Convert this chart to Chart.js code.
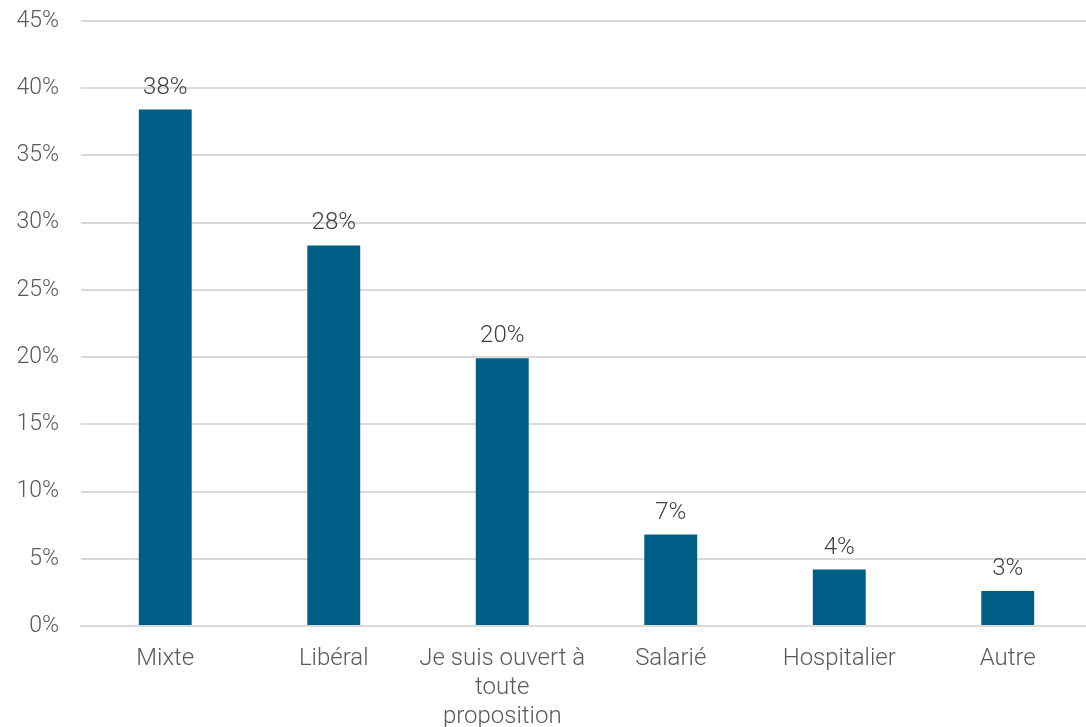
<!DOCTYPE html>
<html>
<head>
<meta charset="utf-8">
<script src="https://cdn.jsdelivr.net/npm/chart.js@4.4.1/dist/chart.umd.min.js"></script>
<style>
html,body{margin:0;padding:0;background:#fff;overflow:hidden;}
#wrap{width:1092px;height:742px;position:absolute;left:0;top:-15px;}
</style>
</head>
<body>
<div id="wrap"><canvas id="c"></canvas></div>
<script>
const categories = [
  'Mixte',
  'Libéral',
  ['Je suis ouvert à', 'toute', 'proposition'],
  'Salarié',
  'Hospitalier',
  'Autre'
];
const values = [38.4, 28.3, 19.9, 6.8, 4.2, 2.6];
const valueLabels = ['38%', '28%', '20%', '7%', '4%', '3%'];
const yTicks = [0, 5, 10, 15, 20, 25, 30, 35, 40, 45];

const FONT = "Roboto";
const barLabels = {
  id: 'barLabels',
  afterDatasetsDraw(chart) {
    const ctx = chart.ctx;
    const meta = chart.getDatasetMeta(0);
    ctx.save();
    ctx.font = '300 24px ' + FONT;
    ctx.fillStyle = '#404040';
    ctx.textAlign = 'center';
    ctx.textBaseline = 'alphabetic';
    meta.data.forEach((bar, i) => {
      ctx.fillText(valueLabels[i], bar.x, bar.y - 16);
    });
    ctx.restore();
  }
};

new Chart(document.getElementById('c'), {
  type: 'bar',
  data: {
    labels: categories,
    datasets: [{
      data: values,
      backgroundColor: '#005f87',
      borderWidth: 0,
      barPercentage: 0.314,
      categoryPercentage: 1.0
    }]
  },
  options: {
    responsive: true,
    maintainAspectRatio: false,
    animation: false,
    layout: { padding: { top: 0, right: 0, left: 0, bottom: 0 } },
    plugins: { legend: { display: false }, tooltip: { enabled: false } },
    scales: {
      x: {
        grid: { display: false, drawTicks: false },
        border: { display: true, color: '#d9d9d9', width: 2 },
        ticks: {
          color: '#595959',
          font: { family: FONT, size: 24, weight: 300, lineHeight: 1.2 },
          padding: 19,
          maxRotation: 0,
          autoSkip: false
        },
        afterFit(scale) { scale.height = 101; }
      },
      y: {
        min: 0,
        max: 45,
        afterBuildTicks(scale) { scale.ticks = yTicks.map(v => ({ value: v })); },
        grid: { color: '#d9d9d9', lineWidth: 2, drawTicks: false },
        border: { display: false },
        ticks: {
          color: '#595959',
          font: { family: FONT, size: 23, weight: 300 },
          padding: 22,
          callback: v => v + '%'
        },
        afterFit(scale) { scale.width = 81; }
      }
    }
  },
  plugins: [barLabels]
});
</script>
</body>
</html>
